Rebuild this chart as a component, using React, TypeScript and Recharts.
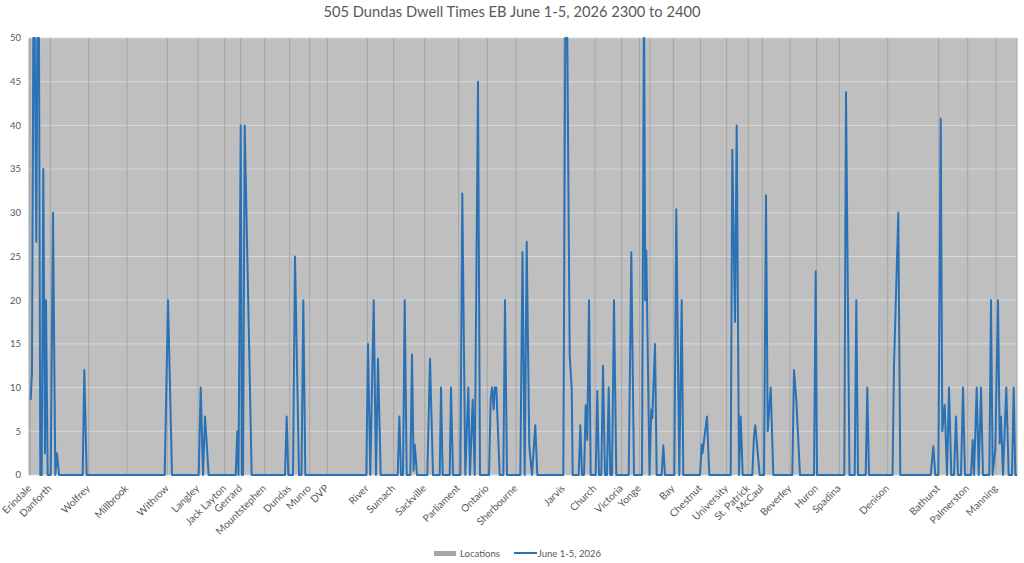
import { ComposedChart, Line, XAxis, YAxis, CartesianGrid, Legend } from 'recharts';

// stops along the route, in the same position units as the x axis
const locationNames = [
  'Erindale', 'Danforth', 'Wolfrey', 'Millbrook', 'Withrow', 'Langley', 'Jack Layton', 'Gerrard',
  'Mountstephen', 'Dundas', 'Munro', 'DVP', 'River', 'Sumach', 'Sackville', 'Parliament', 'Ontario',
  'Sherbourne', 'Jarvis', 'Church', 'Victoria', 'Yonge', '', 'Bay', 'Chestnut', 'University',
  'St. Patrick', 'McCaul', 'Beverley', 'Huron', 'Spadina', 'Denison', 'Bathurst', 'Palmerston', 'Manning',
];
const locationPositions = [
  1, 21.3, 59.7, 98, 138.3, 169, 195.7, 211.7,
  235.7, 260.7, 280.7, 298.3, 338.3, 364.7, 395.7, 429.7, 458.3,
  487, 534.5, 566, 592.7, 610.5, 621, 644.3, 671.7, 697.7,
  719.3, 733.3, 761, 787.7, 810.3, 858.7, 909.7, 938.7, 967,
];

const yTicks = [0, 5, 10, 15, 20, 25, 30, 35, 40, 45, 50];

// dwell time trace, June 1-5 2026: [position, seconds]
const june1to5: [number, number][] = [
  [1.7, 8.6], [3, 11.8], [4.3, 50], [5.7, 50], [7.3, 26.7], [8.3, 50], [10, 50], [11.3, 0], [12, 1.3], [12.7, 0],
  [14.3, 35], [16, 2.5], [17, 20], [18.7, 0], [21.7, 0], [24, 30], [26.3, 0], [28, 2.5], [30, 0],
  [53.7, 0], [55.3, 12], [57.7, 0],
  [135.7, 0], [139, 20], [143, 0],
  [169.7, 0], [171.7, 10], [174, 0], [176, 6.7], [179.7, 0],
  [206.7, 0], [208.3, 5], [209.5, 0], [211.7, 40], [213, 0], [214, 0], [215.7, 40], [222.7, 0],
  [256, 0], [257.7, 6.7], [259.3, 0], [264, 0], [266, 25], [270, 0], [272.5, 0], [274.3, 20], [276.3, 0],
  [337.3, 0], [339, 15], [341.3, 0], [344.7, 20], [347, 0], [349, 13.3], [351.7, 0],
  [368.7, 0], [370.3, 6.7], [372, 0], [374, 0], [375.7, 20], [377.7, 0], [381.3, 0], [383, 13.8], [384.6, 0.5], [385.7, 3.5], [388, 0],
  [398.3, 0], [401, 13.3], [404, 0],
  [410.7, 0], [412, 10], [413.7, 0],
  [420.7, 0], [422, 10], [424, 0],
  [431.3, 0], [433.3, 32.2], [436.3, 0], [439.3, 10], [441, 0], [443.7, 8.6], [445.7, 0], [449, 45], [451, 0],
  [460, 0], [461.7, 8.6], [463, 10], [464.7, 7.5], [465.8, 10], [467.3, 10], [470.7, 0],
  [474.3, 0], [476, 20], [478, 0],
  [491.3, 0], [493.5, 25.5], [495.7, 0], [497.7, 26.7], [500.3, 3.3], [503, 0], [506.3, 5.7], [508.3, 0],
  [534.3, 0], [536.3, 50], [538.3, 50], [540.7, 13.7], [542.7, 9.9], [543.7, 0],
  [549.7, 0], [551.3, 5.7], [553, 0], [555, 0], [556.7, 8], [558.3, 4], [560, 20], [561.7, 0],
  [566.7, 0], [568.3, 9.6], [570, 0], [572.3, 0], [574, 12.5], [576, 0], [578, 0], [579.7, 10], [581.3, 0], [583, 0], [585, 20], [587.3, 0],
  [599.7, 0], [602.3, 25.5], [605, 0],
  [613, 0], [614.8, 50], [615.2, 50], [616.2, 20], [617.3, 25.7], [620.5, 0], [622.3, 7.5], [623.3, 6.5], [626, 15], [627.7, 0],
  [632.7, 0], [634.3, 3.4], [636, 0],
  [645.3, 0], [647.3, 30.4], [650.3, 0], [652.7, 20], [654.3, 0],
  [671, 0], [672.7, 3.5], [673.5, 2.5], [678, 6.7], [680.3, 0],
  [701.7, 0], [703.3, 37.2], [706, 17.5], [707.7, 40], [710, 0], [711.7, 6.7], [713.7, 0],
  [723.3, 0], [725, 4.5], [726.3, 5.7], [730.7, 0],
  [735, 0], [737, 32], [738.7, 5], [741.7, 10], [744.3, 0],
  [763.3, 0], [765, 12], [767.3, 8.6], [771, 0],
  [785, 0], [786.7, 23.3], [788, 0],
  [815.3, 0], [817, 43.8], [820.5, 0],
  [825.7, 0], [827.3, 20], [829, 0],
  [836.7, 0], [838.3, 10], [840, 0],
  [863.5, 0], [865, 12.5], [869.3, 30], [871.3, 0],
  [901.7, 0], [904.3, 3.3], [906.3, 0],
  [909.3, 0], [911.7, 40.8], [913.3, 5], [915.7, 8], [918, 0], [920, 10], [922.3, 0], [925, 0], [927, 6.7], [929, 0], [932, 0], [934, 10], [936, 0],
  [942, 0], [943.7, 4], [945, 0], [947.7, 10], [949.7, 0], [952, 10], [954, 0],
  [960.3, 0], [962, 20], [963.7, 0], [966.3, 3], [969, 20], [970.7, 3.6], [972, 6.7], [974, 0], [977.3, 10], [979.7, 0],
  [983, 0], [984.7, 10], [986.3, 0], [988, 0],
];

const BLUE = '#2a72b5';
const TEXT = '#595959';
const FONT = 'Lato, "Open Sans", sans-serif';

const data = june1to5.map(([pos, dwell]) => ({ pos, dwell }));

function LocationTick(props: any) {
  const { x, y, payload } = props;
  const name = locationNames[locationPositions.indexOf(payload.value)];
  if (!name) return <g />;
  return (
    <g transform={`translate(${x + 2},${y + 14})`}>
      <text textAnchor="end" transform="rotate(-45)" fontSize={10.2} fill={TEXT} fontFamily={FONT}>
        {name}
      </text>
    </g>
  );
}

function ChartLegend() {
  return (
    <div
      style={{
        position: 'relative',
        top: 3,
        display: 'flex',
        justifyContent: 'center',
        alignItems: 'center',
        height: 18,
        paddingLeft: 18,
        fontSize: 9.5,
        color: TEXT,
        fontFamily: FONT,
      }}
    >
      <span style={{ display: 'flex', alignItems: 'center', marginRight: 14 }}>
        <span style={{ width: 22, height: 5, background: '#a6a6a6', marginRight: 4 }} />
        Locations
      </span>
      <span style={{ display: 'flex', alignItems: 'center' }}>
        <span style={{ width: 23, height: 2, background: BLUE, marginRight: 1 }} />
        June 1-5, 2026
      </span>
    </div>
  );
}

export default function App() {
  return (
    <div style={{ position: 'relative', width: 1024, height: 563, fontFamily: FONT, background: '#fff' }}>
      <style>{'body{margin:0}'}</style>
      <div
        style={{
          position: 'absolute',
          top: 2,
          left: 0,
          width: 1024,
          textAlign: 'center',
          fontSize: 14.7,
          lineHeight: '18px',
          color: TEXT,
        }}
      >
        505 Dundas Dwell Times EB June 1-5, 2026 2300 to 2400
      </div>
      <ComposedChart width={1024} height={563} data={data} margin={{ top: 38, right: 7, left: 0, bottom: 4 }}>
        <CartesianGrid vertical={false} fill="#bfbfbf" stroke="#d9d9d9" />
        <CartesianGrid horizontal={false} stroke="#a6a6a6" />
        <XAxis
          dataKey="pos"
          type="number"
          domain={[0, 988]}
          ticks={locationPositions}
          interval={0}
          tick={<LocationTick />}
          tickLine={false}
          tickSize={0}
          tickMargin={0}
          axisLine={false}
          height={66}
        />
        <YAxis
          domain={[0, 50]}
          ticks={yTicks}
          interval={0}
          width={29}
          tickLine={false}
          axisLine={false}
          tick={{ fill: TEXT, fontSize: 9.5, fontFamily: FONT }}
        />
        <Legend verticalAlign="bottom" content={<ChartLegend />} wrapperStyle={{ height: 18 }} />
        <Line
          type="linear"
          dataKey="dwell"
          name="June 1-5, 2026"
          stroke={BLUE}
          strokeWidth={2}
          strokeLinejoin="round"
          dot={false}
          activeDot={false}
          isAnimationActive={false}
        />
      </ComposedChart>
    </div>
  );
}
